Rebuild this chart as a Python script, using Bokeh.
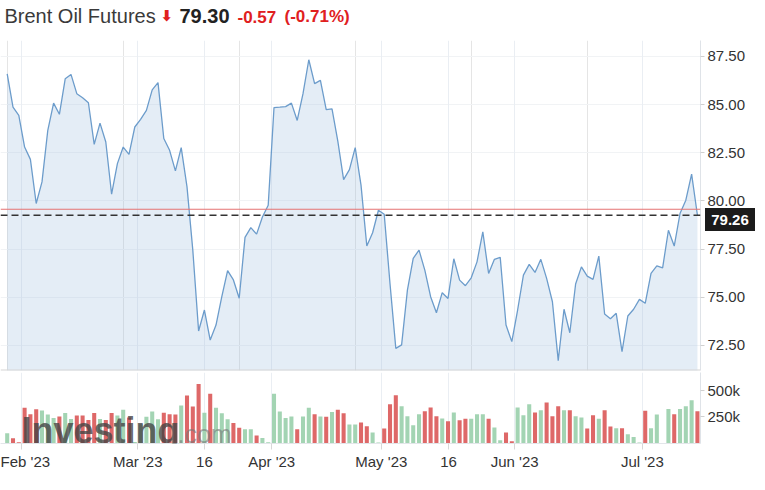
from bokeh.plotting import figure
from bokeh.models import Range1d, FixedTicker, Grid, Span, Label, ColumnDataSource, NumeralTickFormatter, Div
from bokeh.layouts import column
from bokeh.embed import file_html
from bokeh.resources import INLINE

# ---------------- data ----------------
title_name = "Brent Oil Futures"
last_price_text = "79.30"
change_text = "-0.57"
change_pct_text = "(-0.71%)"

prices = [86.60, 84.87, 84.44, 82.80, 82.16, 79.87, 80.99, 83.67, 85.08, 84.50,
          86.34, 86.57, 85.57, 85.36, 85.10, 82.94, 84.04, 83.06, 80.35, 81.94,
          82.80, 82.42, 83.84, 84.24, 84.70, 85.77, 86.14, 83.24, 82.63, 81.56,
          82.77, 80.73, 77.45, 73.25, 74.34, 72.78, 73.56, 75.03, 76.38, 75.90,
          74.95, 78.11, 78.62, 78.28, 79.17, 79.78, 84.85, 84.87, 84.90, 85.08,
          84.18, 85.57, 87.33, 86.09, 86.26, 84.74, 84.78, 83.11, 81.11, 81.63,
          82.77, 80.82, 77.66, 78.35, 79.52, 79.31, 75.70, 72.35, 72.53, 75.37,
          77.02, 77.45, 76.41, 75.03, 74.20, 75.24, 74.94, 77.00, 75.89, 75.60,
          76.01, 76.84, 78.40, 76.24, 76.97, 77.07, 73.56, 72.70, 74.34, 76.15,
          76.71, 76.29, 76.97, 75.98, 74.77, 71.71, 74.38, 73.16, 75.69, 76.58,
          76.10, 75.93, 77.14, 74.13, 73.89, 74.17, 72.18, 74.03, 74.38, 74.89,
          74.69, 76.24, 76.63, 76.53, 78.48, 77.66, 79.35, 80.04, 81.39, 79.26]

volumes_k = [97, 50, 12, 334, 275, 320, 308, 272, 238, 252,
             286, 230, 262, 262, 220, 286, 230, 220, 286, 262,
             315, 243, 15, 180, 250, 300, 228, 287, 275, 272,
             356, 450, 346, 558, 287, 465, 334, 284, 228, 193,
             147, 134, 134, 75, 52, 12, 465, 300, 240, 253,
             134, 253, 334, 273, 253, 250, 296, 315, 284, 178,
             178, 197, 162, 103, 9, 140, 368, 452, 350, 256,
             172, 275, 303, 337, 256, 234, 209, 290, 218, 231,
             231, 275, 275, 231, 150, 31, 103, 22, 337, 265,
             368, 290, 312, 384, 256, 350, 312, 312, 256, 243,
             140, 265, 231, 312, 160, 144, 144, 87, 62, 9,
             306, 144, 271, 3, 324, 275, 324, 350, 406, 303]

reference_level = 79.57

x_tick_pos = [2.47, 22.5, 34.0, 45.6, 64.5, 76.1, 87.5, 109.5]
x_tick_labels = ["Feb '23", "Mar '23", "16", "Apr '23", "May '23", "16", "Jun '23", "Jul '23"]

price_ticks = [72.5, 75.0, 77.5, 80.0, 82.5, 85.0, 87.5]
vol_ticks = [250000, 500000]
vol_tick_labels = ["250k", "500k"]

# ---------------- derived ----------------
idx = list(range(len(prices)))
volumes = [v * 1000 for v in volumes_k]
up_col, down_col = "#a3d4b3", "#de6868"
bar_colors = [up_col] + [up_col if prices[i] >= prices[i - 1] else down_col for i in range(1, len(prices))]

W = 765
FW = 700
X0, X1 = -1.155, 119.53
Y0, Y1 = 71.20, 88.33
FONT = "Liberation Sans"
TXT = "#333333"
RED = "#e0201e"

# ---------------- header ----------------
HH = 40
h = figure(width=W, height=HH, x_range=Range1d(0, FW), y_range=Range1d(0, HH),
           x_axis_location=None, y_axis_location=None, toolbar_location=None,
           min_border_left=0, min_border_right=W - FW, min_border_top=0, min_border_bottom=0,
           outline_line_color=None, output_backend="svg")
h.grid.visible = False
h.add_layout(Label(x=4, y=HH - 15.3, text=title_name, text_font=FONT, text_font_size="20px",
                   text_color="#3a3a3a", text_baseline="middle"))
h.add_layout(Label(x=160, y=HH - 15.5, text="\u2b07", text_font="DejaVu Sans", text_font_size="15px",
                   text_font_style="bold", text_color=RED, text_baseline="middle"))
h.add_layout(Label(x=179, y=HH - 15.1, text=last_price_text, text_font=FONT, text_font_size="20px",
                   text_font_style="bold", text_color="#222222", text_baseline="middle"))
h.add_layout(Label(x=237, y=HH - 16.2, text=change_text, text_font=FONT, text_font_size="17px",
                   text_font_style="bold", text_color=RED, text_baseline="middle"))
h.add_layout(Label(x=284, y=HH - 16.2, text=change_pct_text, text_font=FONT, text_font_size="17px",
                   text_font_style="bold", text_color=RED, text_baseline="middle"))

# ---------------- price panel ----------------
src = ColumnDataSource(dict(x=idx, price=prices, vol=volumes, color=bar_colors))

PH = 331
p = figure(width=W, height=PH, x_range=Range1d(X0, X1), y_range=Range1d(Y0, Y1),
           x_axis_location=None, y_axis_location="right", toolbar_location=None,
           min_border_left=0, min_border_right=W - FW, min_border_top=0, min_border_bottom=1,
           outline_line_color=None, output_backend="svg")
p.background_fill_color = "white"
p.ygrid.grid_line_color = "#f1f3f5"
p.ygrid.ticker = FixedTicker(ticks=price_ticks)
p.add_layout(Grid(dimension=0, ticker=FixedTicker(ticks=x_tick_pos), grid_line_color="#eaeef3"))

p.varea(x="x", y1=0, y2="price", source=src, fill_color="#9ec0e0", fill_alpha=0.28)
p.line(x="x", y="price", source=src, line_color="#6c9ccb", line_width=1.3)

p.add_layout(Span(location=reference_level, dimension="width", line_color="#e57373", line_width=1))
p.add_layout(Span(location=prices[-1], dimension="width", line_color="#333333", line_width=1.5,
                  line_dash="7 4"))
p.add_layout(Span(location=Y0, dimension="width", line_color="#d6d6d6", line_width=2))

ya = p.yaxis[0]
ya.ticker = FixedTicker(ticks=price_ticks)
ya.formatter = NumeralTickFormatter(format="0.00")
ya.axis_line_color = "#dfe3e8"
ya.major_tick_line_color = "#d0d0d0"
ya.major_tick_out = 4
ya.major_tick_in = 0
ya.minor_tick_line_color = None
ya.major_label_standoff = 3
ya.major_label_text_font = FONT
ya.major_label_text_font_size = "15px"
ya.major_label_text_color = TXT

# last-price tag in the axis area (HTML overlay, positioned from the price scale)
tag_h = 23
frame_h = PH - 1
tag_center = HH + (Y1 - prices[-1]) / (Y1 - Y0) * frame_h
tag = Div(text=f"{prices[-1]:.2f}", width=50, height=tag_h,
          styles={"position": "absolute", "left": f"{FW}px", "top": f"{tag_center - tag_h / 2:.1f}px",
                  "background-color": "#1b1b1b", "color": "white",
                  "font-family": "'Liberation Sans', Arial, sans-serif", "font-size": "15px",
                  "font-weight": "bold", "line-height": f"{tag_h}px", "text-align": "center",
                  "z-index": "10", "overflow": "hidden"})

# ---------------- volume panel ----------------
v = figure(width=W, height=118, x_range=p.x_range, y_range=Range1d(0, 665000),
           y_axis_location="right", toolbar_location=None,
           min_border_left=0, min_border_right=W - FW, min_border_top=1, min_border_bottom=46,
           outline_line_color=None, output_backend="svg")
v.ygrid.visible = False
v.xgrid.grid_line_color = "#eaeef3"

v.vbar(x="x", top="vol", width=0.7, source=src, fill_color="color", line_color=None)

xa = v.xaxis[0]
xa.ticker = FixedTicker(ticks=x_tick_pos)
xa.major_label_overrides = {t: l for t, l in zip(x_tick_pos, x_tick_labels)}
xa.axis_line_color = "#e3e6ea"
xa.major_tick_line_color = "#d8d8d8"
xa.major_tick_out = 6
xa.major_tick_in = 0
xa.minor_tick_line_color = None
xa.major_label_standoff = 3
xa.major_label_text_font = FONT
xa.major_label_text_font_size = "15px"
xa.major_label_text_color = TXT

vy = v.yaxis[0]
vy.ticker = FixedTicker(ticks=vol_ticks)
vy.major_label_overrides = {t: l for t, l in zip(vol_ticks, vol_tick_labels)}
vy.axis_line_color = "#dfe3e8"
vy.major_tick_line_color = "#d0d0d0"
vy.major_tick_out = 4
vy.major_tick_in = 0
vy.minor_tick_line_color = None
vy.major_label_standoff = 3
vy.major_label_text_font = FONT
vy.major_label_text_font_size = "15px"
vy.major_label_text_color = TXT

# watermark
v.add_layout(Label(x=21, x_units="screen", y=120000, text="Investing", text_font=FONT,
                   text_font_size="36px", text_font_style="bold", text_color="#444444",
                   text_alpha=0.8, text_baseline="middle"))
v.add_layout(Label(x=177, x_units="screen", y=85000, text=".com", text_font=FONT,
                   text_font_size="25px", text_color="#777777", text_alpha=0.6,
                   text_baseline="middle"))

layout = column(h, p, v, tag)
open("out.html", "w").write(file_html(layout, INLINE))
